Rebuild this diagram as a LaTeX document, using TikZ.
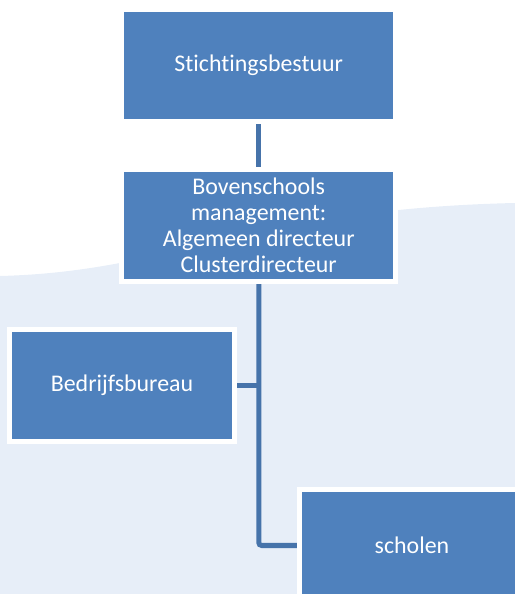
\documentclass[tikz,border=0pt]{standalone}
\usepackage{fontspec}
\setmainfont{Carlito}[Ligatures=NoCommon]
\usetikzlibrary{backgrounds}
\definecolor{boxblue}{RGB}{79,129,189}
\definecolor{lineblue}{RGB}{70,115,170}
\definecolor{bgblue}{RGB}{231,238,248}
\begin{document}
\begin{tikzpicture}[
  orgbox/.style={draw=white,line width=0.1cm,fill=boxblue,text=white,align=center,
    minimum height=2.24cm,inner sep=0pt,font=\fontsize{13.6}{14.8}\selectfont},
  link/.style={draw=lineblue,line width=0.1cm,rounded corners=0.06cm}]
\clip (0,0) rectangle (10.3,11.88);
\node[orgbox,minimum width=5.48cm](bestuur) at (5.175,10.57){Stichtingsbestuur};
\node[orgbox,minimum width=5.48cm](bovenschools) at (5.175,7.37){Bovenschools\\management:\\Algemeen directeur\\Clusterdirecteur};
\node[orgbox,minimum width=4.5cm](bedrijf) at (2.44,4.17){Bedrijfsbureau};
\node[orgbox,minimum width=4.5cm](scholen) at (8.24,0.97){scholen};
\begin{scope}[on background layer]
\fill[bgblue](0,0)--(0,6.36) .. controls (3.5,6.45) and (5,7.7) .. (10.3,7.82)--(10.3,0)--cycle;
\draw[link](bestuur)--(bovenschools);
\draw[link](bovenschools.south)|-(scholen.west);
\draw[link](bedrijf.east)--(bedrijf.east-|bovenschools.south);
\end{scope}
\end{tikzpicture}
\end{document}
